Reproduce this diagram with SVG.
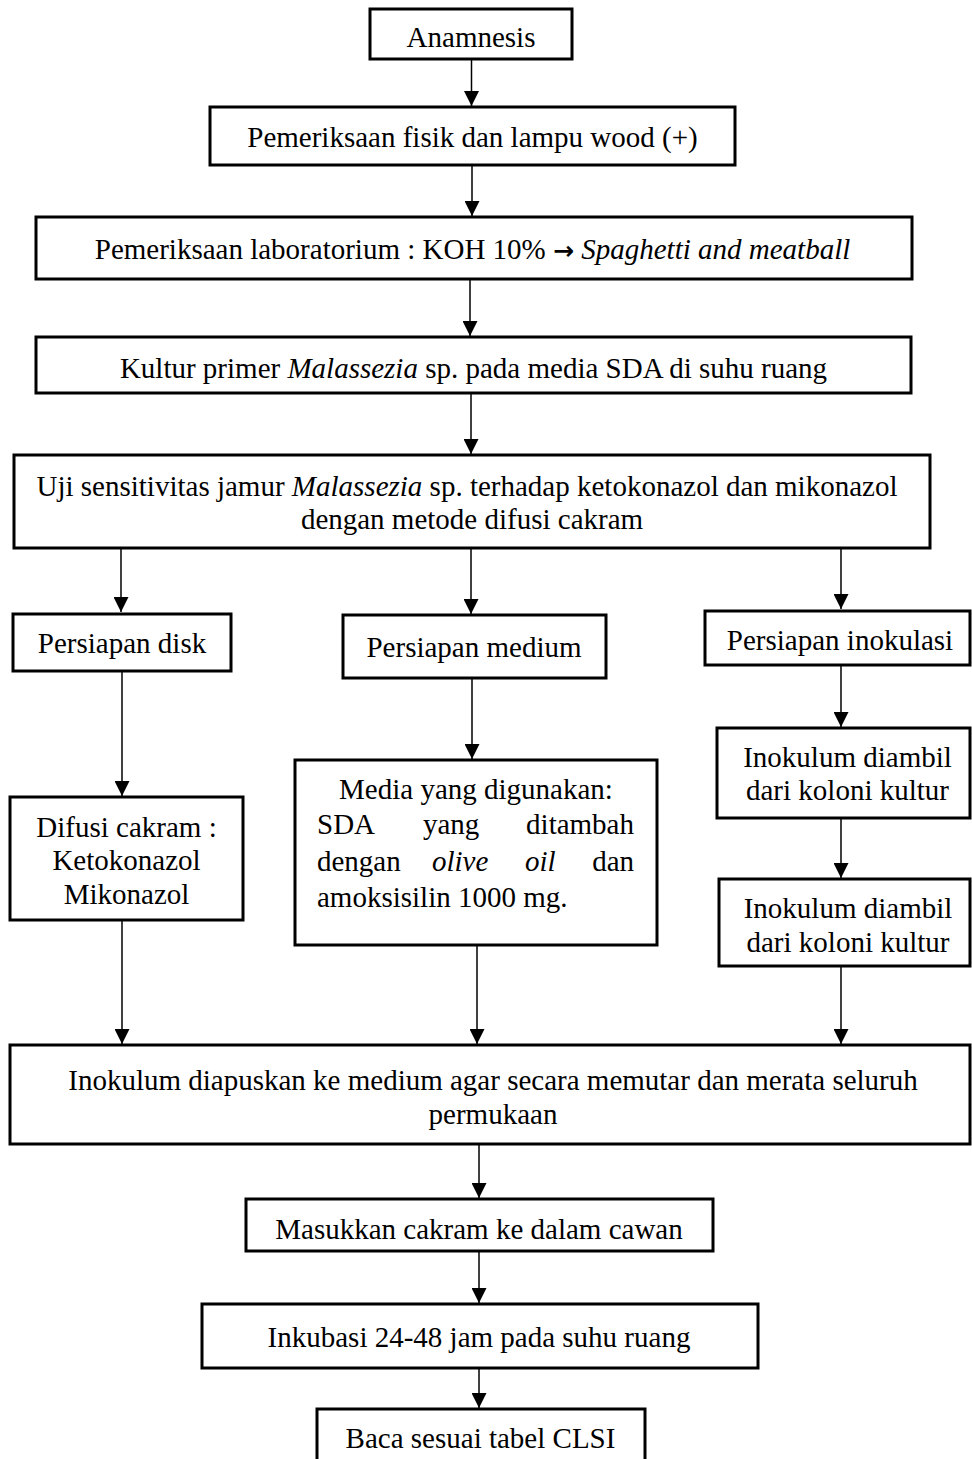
<svg xmlns="http://www.w3.org/2000/svg" width="972" height="1459" viewBox="0 0 972 1459">
<style>
.box{fill:#fff;stroke:#000;stroke-width:3}
.t{font-family:"Liberation Serif","Times New Roman",serif;font-size:29px;fill:#000}
.c{text-anchor:middle}
.i{font-style:italic}
.conn line{stroke:#000;stroke-width:1.5;marker-end:url(#ah)}
</style>
<defs>
<marker id="ah" markerUnits="userSpaceOnUse" markerWidth="15" markerHeight="15" viewBox="0 0 10 10" refX="10" refY="5" orient="auto">
<path d="M0,0 L10,5 L0,10 z" fill="#000"/>
</marker>
</defs>
<rect width="972" height="1459" fill="#fff"/>
<g class="conn" id="connectors">
<line x1="471.5" y1="59" x2="471.5" y2="106"/>
<line x1="472" y1="165" x2="472" y2="216"/>
<line x1="470" y1="279" x2="470" y2="336"/>
<line x1="471" y1="393" x2="471" y2="454"/>
<line x1="121" y1="548" x2="121" y2="612"/>
<line x1="471" y1="548" x2="471" y2="614"/>
<line x1="841" y1="548" x2="841" y2="609"/>
<line x1="122" y1="671" x2="122" y2="796"/>
<line x1="472" y1="678" x2="472" y2="759"/>
<line x1="841" y1="665" x2="841" y2="727"/>
<line x1="841" y1="818" x2="841" y2="878"/>
<line x1="122" y1="920" x2="122" y2="1044"/>
<line x1="477" y1="945" x2="477" y2="1044"/>
<line x1="841" y1="966" x2="841" y2="1044"/>
<line x1="479" y1="1144" x2="479" y2="1198"/>
<line x1="479" y1="1251" x2="479" y2="1303"/>
<line x1="479" y1="1368" x2="479" y2="1408"/>
</g>
<g id="n1"><rect class="box" x="370" y="9" width="202" height="50"/><text class="t c" x="471" y="47">Anamnesis</text></g>
<g id="n2"><rect class="box" x="210" y="107" width="525" height="58"/><text class="t c" x="472.5" y="147">Pemeriksaan fisik dan lampu wood (+)</text></g>
<g id="n3"><rect class="box" x="36" y="217" width="876" height="62"/><text class="t c" x="472.5" y="259">Pemeriksaan laboratorium : KOH 10% <tspan font-family="DejaVu Sans" font-weight="bold" font-size="25">→</tspan> <tspan class="i">Spaghetti and meatball</tspan></text></g>
<g id="n4"><rect class="box" x="36" y="337" width="875" height="56"/><text class="t c" x="473.5" y="378">Kultur primer <tspan class="i">Malassezia</tspan> sp. pada media SDA di suhu ruang</text></g>
<g id="n5"><rect class="box" x="14" y="455" width="916" height="93"/><text class="t c" x="467" y="496">Uji sensitivitas jamur <tspan class="i">Malassezia</tspan> sp. terhadap ketokonazol dan mikonazol</text><text class="t c" x="472" y="529">dengan metode difusi cakram</text></g>
<g id="n6"><rect class="box" x="13" y="614" width="218" height="57"/><text class="t c" x="122" y="653">Persiapan disk</text></g>
<g id="n7"><rect class="box" x="343" y="615" width="263" height="63"/><text class="t c" x="474" y="657">Persiapan medium</text></g>
<g id="n8"><rect class="box" x="705" y="611" width="265" height="54"/><text class="t c" x="840" y="650">Persiapan inokulasi</text></g>
<g id="n9"><rect class="box" x="10" y="797" width="233" height="123"/><text class="t c" x="126.5" y="837">Difusi cakram :</text><text class="t c" x="126.5" y="870">Ketokonazol</text><text class="t c" x="126.5" y="904">Mikonazol</text></g>
<g id="n10"><rect class="box" x="295" y="760" width="362" height="185"/>
<text class="t c" x="476" y="799">Media yang digunakan:</text>
<text class="t" x="317" y="834">SDA</text><text class="t" x="423" y="834">yang</text><text class="t" x="634" y="834" text-anchor="end">ditambah</text>
<text class="t" x="317" y="871">dengan</text><text class="t i" x="432" y="871">olive</text><text class="t i" x="525" y="871">oil</text><text class="t" x="634" y="871" text-anchor="end">dan</text>
<text class="t" x="317" y="907">amoksisilin 1000 mg.</text></g>
<g id="n11"><rect class="box" x="717" y="728" width="253" height="90"/><text class="t c" x="847.5" y="767">Inokulum diambil</text><text class="t c" x="847.5" y="800">dari koloni kultur</text></g>
<g id="n12"><rect class="box" x="719" y="879" width="251" height="87"/><text class="t c" x="848" y="918">Inokulum diambil</text><text class="t c" x="848" y="952">dari koloni kultur</text></g>
<g id="n13"><rect class="box" x="10" y="1045" width="960" height="99"/><text class="t c" x="493" y="1090">Inokulum diapuskan ke medium agar secara memutar dan merata seluruh</text><text class="t c" x="493" y="1124">permukaan</text></g>
<g id="n14"><rect class="box" x="246" y="1199" width="467" height="52"/><text class="t c" x="479" y="1239">Masukkan cakram ke dalam cawan</text></g>
<g id="n15"><rect class="box" x="202" y="1304" width="556" height="64"/><text class="t c" x="479" y="1347">Inkubasi 24-48 jam pada suhu ruang</text></g>
<g id="n16"><rect class="box" x="317" y="1409" width="328" height="70"/><text class="t c" x="480.5" y="1448">Baca sesuai tabel CLSI</text></g>
</svg>
